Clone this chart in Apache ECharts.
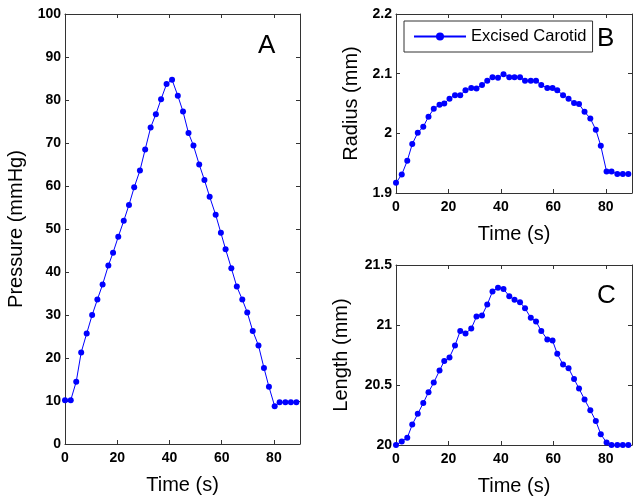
<!DOCTYPE html>
<html>
<head>
<meta charset="utf-8">
<script src="https://cdn.jsdelivr.net/npm/echarts@6/dist/echarts.min.js"></script>
<style>
html,body{margin:0;padding:0;background:#fff;}
#c{width:639px;height:503px;}
</style>
</head>
<body>
<div id="c"></div>
<script>
const time = [0, 2.2, 4.3, 6.2, 8.3, 10.4, 12.4, 14.4, 16.6, 18.4, 20.4, 22.5, 24.5, 26.5, 28.7, 30.7, 32.8, 34.8, 36.8, 38.9, 41, 43.2, 45.2, 47.3, 49.2, 51.4, 53.4, 55.4, 57.7, 59.7, 61.5, 63.7, 65.8, 67.9, 69.8, 71.9, 74.1, 76.2, 78.1, 80.3, 82.2, 84.4, 86.5, 88.6];
const pressure = [10.2, 10.2, 14.5, 21.3, 25.7, 30, 33.6, 37.1, 41.5, 44.5, 48.2, 51.9, 55.6, 59.7, 63.6, 68.5, 73.6, 76.7, 80.2, 83.7, 84.7, 81, 77.3, 72.3, 69.4, 65, 61.4, 57.5, 53.3, 49.1, 45.3, 40.9, 36.6, 33.6, 30.6, 26.3, 22.9, 17.7, 13.3, 8.8, 9.7, 9.7, 9.7, 9.7];
const radius = [1.917, 1.931, 1.954, 1.982, 2.001, 2.011, 2.028, 2.041, 2.048, 2.050, 2.058, 2.064, 2.064, 2.072, 2.076, 2.075, 2.081, 2.088, 2.094, 2.093, 2.099, 2.094, 2.094, 2.094, 2.088, 2.088, 2.088, 2.081, 2.076, 2.076, 2.072, 2.064, 2.058, 2.051, 2.049, 2.036, 2.025, 2.006, 1.979, 1.936, 1.936, 1.932, 1.932, 1.932];
const lengthMm = [20.00, 20.03, 20.06, 20.17, 20.26, 20.35, 20.44, 20.52, 20.62, 20.70, 20.73, 20.83, 20.95, 20.93, 20.97, 21.07, 21.08, 21.17, 21.28, 21.31, 21.30, 21.24, 21.21, 21.19, 21.14, 21.06, 21.03, 20.95, 20.88, 20.87, 20.76, 20.67, 20.64, 20.55, 20.47, 20.38, 20.29, 20.20, 20.09, 20.02, 20.00, 20.00, 20.00, 20.00];

// axis ranges: [min, max, interval]
const xRange = [0, 90, 20];
const pressureRange = [0, 100, 10];
const radiusRange = [1.9, 2.2, 0.1];
const lengthRange = [20, 21.5, 0.5];

const xName = 'Time (s)';
const yNames = ['Pressure (mmHg)', 'Radius (mm)', 'Length (mm)'];
const panelLetters = ['A', 'B', 'C'];
const legendName = 'Excised Carotid';

const FONT = 'Liberation Sans, Arial, sans-serif';
const AX = '#333';
const BLUE = '#0000ff';

const grids = [
  {left: 65, top: 14, width: 235, height: 430},
  {left: 396, top: 14, width: 236, height: 179},
  {left: 396, top: 265, width: 236, height: 180}
];

const xAxes = [], yAxes = [];
const yRanges = [pressureRange, radiusRange, lengthRange];
const yNameGaps = [39, 35, 45];

grids.forEach((g, i) => {
  xAxes.push({
    type: 'value', gridIndex: i, position: 'bottom',
    min: xRange[0], max: xRange[1], interval: xRange[2],
    name: xName, nameLocation: 'middle', nameGap: 31,
    nameTextStyle: {fontFamily: FONT, fontSize: 20, color: '#000'},
    axisLine: {show: true, lineStyle: {color: AX, width: 1}},
    axisTick: {show: true, inside: true, length: 4, lineStyle: {color: AX}},
    axisLabel: {show: true, showMaxLabel: false, margin: 7, fontFamily: FONT, fontSize: 14, fontWeight: 'bold', color: '#000'},
    splitLine: {show: false}
  });
  xAxes.push({
    type: 'value', gridIndex: i, position: 'top',
    min: xRange[0], max: xRange[1], interval: xRange[2],
    axisLine: {show: true, onZero: false, lineStyle: {color: AX, width: 1}},
    axisTick: {show: true, inside: true, length: 4, lineStyle: {color: AX}},
    axisLabel: {show: false},
    splitLine: {show: false}
  });
  const r = yRanges[i];
  yAxes.push({
    type: 'value', gridIndex: i, position: 'left',
    min: r[0], max: r[1], interval: r[2],
    name: yNames[i], nameLocation: 'middle', nameGap: yNameGaps[i],
    nameTextStyle: {fontFamily: FONT, fontSize: 20, color: '#000'},
    axisLine: {show: true, onZero: false, lineStyle: {color: AX, width: 1}},
    axisTick: {show: true, inside: true, length: 4, lineStyle: {color: AX}},
    axisLabel: {show: true, margin: 4, fontFamily: FONT, fontSize: 14, fontWeight: 'bold', color: '#000'},
    splitLine: {show: false}
  });
  yAxes.push({
    type: 'value', gridIndex: i, position: 'right',
    min: r[0], max: r[1], interval: r[2],
    axisLine: {show: true, onZero: false, lineStyle: {color: AX, width: 1}},
    axisTick: {show: true, inside: true, length: 4, lineStyle: {color: AX}},
    axisLabel: {show: false},
    splitLine: {show: false}
  });
});

const seriesVals = [pressure, radius, lengthMm];
const series = seriesVals.map((vals, i) => ({
  type: 'line',
  name: i === 1 ? legendName : ('s' + i),
  xAxisIndex: i * 2, yAxisIndex: i * 2,
  data: time.map((t, k) => [t, vals[k]]),
  symbol: 'circle', symbolSize: 6, showAllSymbol: true,
  lineStyle: {color: BLUE, width: 1},
  itemStyle: {color: BLUE},
  emphasis: {disabled: true},
  animation: false
}));

const letterPos = [[258, 33], [597, 26], [597, 283]];
const graphics = panelLetters.map((L, i) => ({
  type: 'text', left: letterPos[i][0], top: letterPos[i][1],
  style: {text: L, fontFamily: FONT, fontSize: 26, fill: '#000'}
}));

const chart = echarts.init(document.getElementById('c'));
chart.setOption({
  animation: false,
  backgroundColor: '#fff',
  grid: grids,
  xAxis: xAxes,
  yAxis: yAxes,
  legend: {
    data: [{name: legendName, itemStyle: {color: BLUE}}],
    left: 404, top: 21,
    padding: [7, 6, 7, 9],
    itemWidth: 52, itemHeight: 10,
    borderColor: AX, borderWidth: 1, backgroundColor: '#fff',
    textStyle: {fontFamily: FONT, fontSize: 16.5, color: '#000'},
    selectedMode: false
  },
  graphic: graphics,
  series: series
});
</script>
</body>
</html>
